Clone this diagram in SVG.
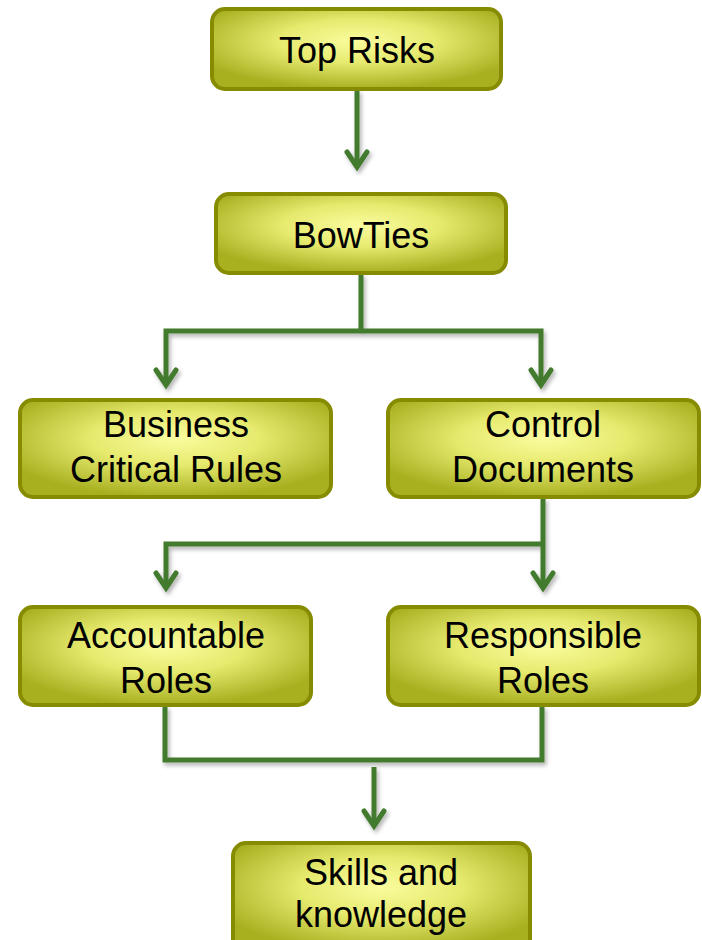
<svg xmlns="http://www.w3.org/2000/svg" width="702" height="940" viewBox="0 0 702 940">
<style>
.box{fill:url(#g);stroke:#868b00;stroke-width:4}
.t{font-family:"Liberation Sans",Arial,sans-serif;font-size:36px;fill:#000;text-anchor:middle}
.c{fill:none;stroke:#437a2f;stroke-width:5;stroke-linejoin:miter;stroke-linecap:butt}
.a{fill:none;stroke:#437a2f;stroke-width:5;stroke-linejoin:miter;stroke-linecap:round}
</style>
<defs>
<radialGradient id="g" cx="0.5" cy="0.4" r="0.6">
<stop offset="0" stop-color="#fafc9e"/>
<stop offset="0.45" stop-color="#e6ea6e"/>
<stop offset="1" stop-color="#a8b020"/>
</radialGradient>
<filter id="sh" filterUnits="userSpaceOnUse" x="0" y="0" width="702" height="940">
<feDropShadow dx="2" dy="3" stdDeviation="2" flood-color="#000" flood-opacity="0.3"/>
</filter>
</defs>
<g id="connectors" filter="url(#sh)">
<path class="c" d="M357 90 V167"/>
<path class="a" d="M347 152 L357 167 L367 152"/>
<path class="c" d="M361 274 V331 M166 385 V331 H541 V385"/>
<path class="a" d="M156 370 L166 385 L176 370 M531 370 L541 385 L551 370"/>
<path class="c" d="M543 498 V588 M543 544 H166 V588"/>
<path class="a" d="M156 573 L166 588 L176 573 M533 573 L543 588 L553 573"/>
<path class="c" d="M165 706 V760 H542 V706"/>
<path class="c" d="M374 767 V826"/>
<path class="a" d="M364 811 L374 826 L384 811"/>
</g>
<g id="top-risks">
<rect class="box" x="212" y="9" width="289" height="80" rx="13"/>
<text class="t" x="357" y="63">Top Risks</text>
</g>
<g id="bowties">
<rect class="box" x="216" y="194" width="290" height="79" rx="13"/>
<text class="t" x="361" y="248">BowTies</text>
</g>
<g id="business-critical-rules">
<rect class="box" x="20" y="400" width="311" height="97" rx="13"/>
<text class="t" x="176" y="437">Business</text>
<text class="t" x="176" y="482">Critical Rules</text>
</g>
<g id="control-documents">
<rect class="box" x="388" y="400" width="311" height="97" rx="13"/>
<text class="t" x="543" y="437">Control</text>
<text class="t" x="543" y="482">Documents</text>
</g>
<g id="accountable-roles">
<rect class="box" x="20" y="607" width="291" height="98" rx="13"/>
<text class="t" x="166" y="648">Accountable</text>
<text class="t" x="166" y="693">Roles</text>
</g>
<g id="responsible-roles">
<rect class="box" x="388" y="607" width="311" height="98" rx="13"/>
<text class="t" x="543" y="648">Responsible</text>
<text class="t" x="543" y="693">Roles</text>
</g>
<g id="skills-and-knowledge">
<rect class="box" x="233" y="843" width="297" height="110" rx="13"/>
<text class="t" x="381" y="885">Skills and</text>
<text class="t" x="381" y="927">knowledge</text>
</g>
</svg>
